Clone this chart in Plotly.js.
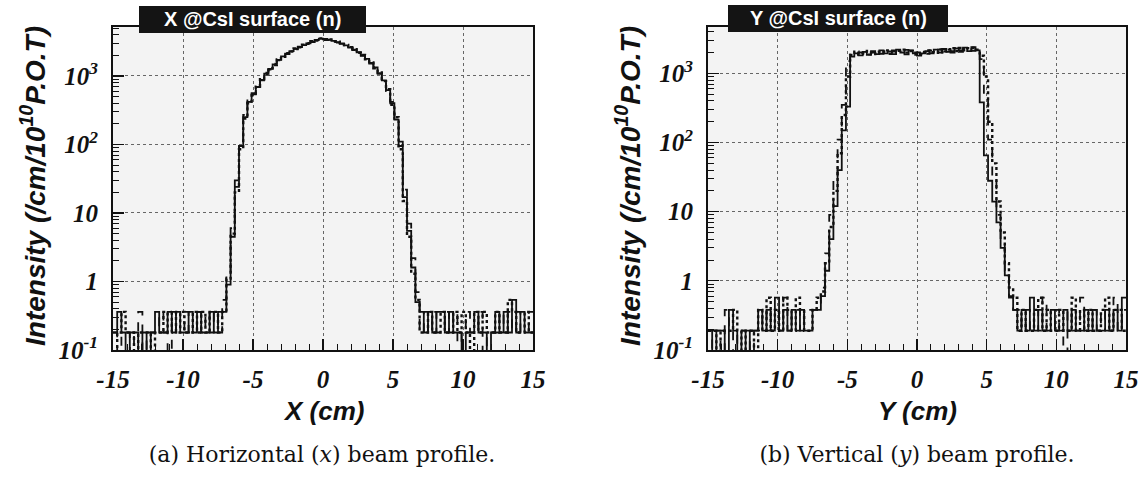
<!DOCTYPE html>
<html><head><meta charset="utf-8">
<script src="https://cdn.plot.ly/plotly-3.0.1.min.js"></script>
<style>
html,body{margin:0;padding:0;background:#fff}
#wrap{position:relative;width:1141px;height:477px}
#plot{position:absolute;left:0;top:0;width:1141px;height:477px}
.cap{position:absolute;top:440px;height:30px;font-family:'DejaVu Serif',serif;font-size:22px;color:#111;text-align:center;white-space:nowrap;line-height:30px}
</style>
</head><body><div id="wrap"><div id="plot"></div>
<div class="cap" style="left:122px;width:400px">(a) Horizontal (<i>x</i>) beam profile.</div>
<div class="cap" style="left:717px;width:400px">(b) Vertical (<i>y</i>) beam profile.</div>
</div>
<script>
// Histogram binning: 100 bins of 0.3 cm from -15 to 15
const binLow = -15, binWidth = 0.3;

// Horizontal (x) profile, three overlaid histograms
const xSolid = [0.18,0.36,0.18,0,0.18,0.18,0,0.18,0,0.18,0.36,0.18,0.18,0.36,0.18,0.36,0.18,0.18,0.36,0.18,0.36,0.18,0.18,0.36,0.18,0.36,
 0.36,0.9,4.5,24,95,250,420,540,690,880,1080,1270,1480,1720,1930,2120,2300,2480,2650,2830,3000,3180,3350,3500,3420,3380,3250,3120,2950,2800,2600,2420,2220,2000,1780,1550,1330,1100,860,620,400,230,95,17,5.5,1.6,0.5,0.36,0.18,
 0.36,0.18,0.36,0.36,0.18,0.36,0.18,0.18,0,0.18,0.18,0.36,0.18,0.18,0,0.18,0.36,0.18,0.36,0.18,0.54,0.18,0.36,0.18,0.18];
const xDashed = [0.18,0,0.18,0.18,0,0.18,0.36,0,0.18,0.18,0.18,0.36,0.18,0,0.36,0.18,0.18,0.36,0.18,0.18,0.36,0.18,0.36,0.18,0.36,0.18,
 0.54,1.4,6,30,110,270,440,560,720,860,1120,1240,1510,1690,1960,2090,2340,2450,2690,2790,3050,3130,3400,3450,3480,3330,3290,3070,3000,2760,2650,2380,2260,1960,1820,1520,1360,1070,880,600,420,210,110,22,7,2.2,0.7,0.18,0.36,
 0.18,0.36,0.18,0.18,0.36,0.18,0.36,0,0.18,0.36,0.18,0.18,0.36,0,0.18,0.18,0.18,0.36,0.18,0.36,0.18,0.36,0.18,0.18,0.36];
const xDotted = [0,0.18,0.36,0.18,0.18,0,0.18,0.18,0.18,0,0.18,0.18,0.36,0.18,0.36,0.18,0.36,0.18,0.18,0.36,0.18,0.36,0.18,0.36,0.36,0.18,
 0.36,1.1,5,20,85,240,400,520,700,900,1050,1300,1450,1750,1900,2150,2280,2520,2620,2870,2960,3220,3300,3540,3380,3420,3210,3160,2900,2830,2560,2450,2180,2030,1750,1580,1300,1130,840,640,380,250,85,15,4.5,1.3,0.54,0.18,0.18,
 0.36,0.18,0.18,0.36,0.18,0.18,0.36,0.18,0.36,0.18,0,0.36,0.18,0.36,0.18,0.18,0.36,0.18,0.18,0.54,0.36,0.18,0.18,0.36,0.18];

// Vertical (y) profile, three overlaid histograms
const ySolid = [0.19,0,0.19,0.19,0,0.38,0.19,0,0.19,0,0.19,0.19,0.38,0.19,0.38,0.19,0.57,0.19,0.38,0.19,0.38,0.19,0.38,0.19,
 0.19,0.38,0.38,0.6,1.4,4,12,40,150,330,1750,1950,1820,2050,1850,2100,1900,2150,1950,2080,1900,2200,2000,1880,2150,1950,1800,1950,2100,1950,2200,2000,2250,2050,2000,2300,2150,2350,2100,2400,2150,380,65,28,14,7,3,1.2,0.57,0.38,0.19,
 0.38,0.19,0.57,0.19,0.38,0.19,0.19,0.38,0.19,0.19,0.38,0.19,0.38,0.19,0.19,0.38,0.19,0.38,0.19,0.19,0.38,0.19,0.38,0.19,0.57];
const yDashed = [0,0.19,0.19,0,0.38,0.19,0,0.19,0.19,0.19,0,0.19,0.19,0.38,0.19,0.38,0.38,0.19,0.57,0.19,0.38,0.38,0.19,0.38,
 0.38,0.38,0.4,0.8,2.5,9,30,110,350,1500,1950,1850,2000,2100,1880,1990,2130,1920,2100,1960,2150,2000,1950,2180,1980,1850,2000,2080,1920,2150,2050,2200,2000,2250,2100,2300,2050,2250,2380,2120,2300,1600,420,110,30,9,3.5,1.4,0.6,0.38,0.38,
 0.19,0.38,0.19,0.38,0.19,0.57,0.19,0.19,0.38,0.19,0,0.38,0.19,0.19,0.57,0.19,0.19,0.38,0.19,0.38,0.19,0.19,0.57,0.19,0.38];
const yDotted = [0.19,0.19,0,0.19,0.19,0.19,0.38,0.19,0,0.19,0.19,0,0.38,0.19,0.57,0.19,0.38,0.19,0.57,0.38,0.19,0.57,0.38,0.19,
 0.19,0.38,0.57,0.7,1.8,6,20,70,250,900,1850,2050,1900,1950,2100,1900,2060,1980,2150,1920,2080,2120,2200,1990,2100,1980,1900,2030,2150,2020,1980,2220,2080,2200,2300,2100,2320,2150,2300,2350,2200,1800,900,200,50,14,5,1.8,0.8,0.57,0.19,
 0.38,0.19,0.19,0.38,0.57,0.19,0.38,0.19,0.19,0.38,0.19,0.19,0.57,0.19,0.38,0.19,0.38,0.19,0.19,0.38,0.57,0.19,0.38,0.38,0.19];

const xTickVals = [-15,-10,-5,0,5,10,15];
const xTickText = ['-15','-10','-5','0','5','10','15'];
const yTickVals = [0.1,1,10,100,1000];
const yTickText = ['10<sup>-1</sup>','1','10','10<sup>2</sup>','10<sup>3</sup>'];

const W = 1141, H = 477;
const px = v => v / W, py = v => 1 - v / H;
const EMPTY = 0.02; // empty bins drawn down through the bottom of the log axis
const SERIF = 'Liberation Serif';
const SANS = 'Liberation Sans';
const INK = '#111';

function stepTrace(vals, dash, width, xa, ya) {
  const x = [], y = [];
  vals.forEach((v, i) => { x.push(binLow + i * binWidth); y.push(v > 0 ? v : EMPTY); });
  x.push(binLow + vals.length * binWidth); y.push(vals[vals.length - 1] > 0 ? vals[vals.length - 1] : EMPTY);
  return {x, y, type:'scatter', mode:'lines', xaxis:xa, yaxis:ya, hoverinfo:'skip', showlegend:false,
          line:{shape:'hv', dash, width, color:INK}};
}

const traces = [
  stepTrace(xSolid, 'solid', 1.8, 'x', 'y'),
  stepTrace(xDashed, 'dash', 1.8, 'x', 'y'),
  stepTrace(xDotted, 'dot', 2.4, 'x', 'y'),
  stepTrace(ySolid, 'solid', 1.8, 'x2', 'y2'),
  stepTrace(yDashed, 'dash', 1.8, 'x2', 'y2'),
  stepTrace(yDotted, 'dot', 2.4, 'x2', 'y2')
];

const tickFont = () => ({family:SERIF, size:25, weight:'bold', style:'italic', color:INK});

function axisX(p0, p1, anchor) {
  return {domain:[px(p0), px(p1)], anchor, range:[-15,15], tickmode:'array', tickvals:xTickVals, ticktext:xTickText,
    ticks:'inside', ticklen:11, tickwidth:1.2, tickcolor:INK,
    minor:{dtick:1, ticks:'inside', ticklen:6, tickwidth:1, tickcolor:INK, showgrid:false},
    showgrid:true, gridcolor:'#666', griddash:'dot', gridwidth:1,
    showline:true, linecolor:INK, linewidth:2, mirror:true, zeroline:false,
    tickfont:tickFont(), ticklabelstandoff:6, fixedrange:true};
}
function axisY(top, anchor) {
  return {type:'log', domain:[py(350), py(27)], anchor, range:[-1, top], tickmode:'array', tickvals:yTickVals, ticktext:yTickText,
    ticks:'inside', ticklen:11, tickwidth:1.2, tickcolor:INK,
    minor:{dtick:'D1', ticks:'inside', ticklen:6, tickwidth:1, tickcolor:INK, showgrid:false},
    showgrid:true, gridcolor:'#666', griddash:'dot', gridwidth:1,
    showline:true, linecolor:INK, linewidth:2, mirror:true, zeroline:false,
    tickfont:tickFont(), ticklabelstandoff:8, fixedrange:true};
}

const layout = {
  width:W, height:H, margin:{l:0,r:0,t:0,b:0},
  paper_bgcolor:'rgba(0,0,0,0)', plot_bgcolor:'#f3f3f3', showlegend:false,
  xaxis: axisX(113, 533, 'y'),
  yaxis: axisY(3.715, 'x'),
  xaxis2: axisX(708, 1126, 'y2'),
  yaxis2: axisY(3.67, 'x2'),
  shapes:[
    {type:'rect', xref:'paper', yref:'paper', x0:px(139), x1:px(366), y0:py(33), y1:py(6), fillcolor:'#141414', line:{width:0}, layer:'above'},
    {type:'rect', xref:'paper', yref:'paper', x0:px(728), x1:px(948), y0:py(32), y1:py(5), fillcolor:'#141414', line:{width:0}, layer:'above'}
  ],
  annotations:[
    {xref:'paper', yref:'paper', x:px(252.5), y:py(19.5), text:'<b>X @CsI surface (n)</b>', showarrow:false, xanchor:'center', yanchor:'middle',
     font:{family:SANS, size:20, color:'#fff'}},
    {xref:'paper', yref:'paper', x:px(838), y:py(18.5), text:'<b>Y @CsI surface (n)</b>', showarrow:false, xanchor:'center', yanchor:'middle',
     font:{family:SANS, size:20, color:'#fff'}},
    {xref:'paper', yref:'paper', x:px(33), y:py(186), text:'<b><i>Intensity (/cm/10<sup>10</sup>P.O.T)</i></b>', textangle:-90, showarrow:false, xanchor:'center', yanchor:'middle',
     font:{family:SANS, size:28, color:INK}},
    {xref:'paper', yref:'paper', x:px(628), y:py(186), text:'<b><i>Intensity (/cm/10<sup>10</sup>P.O.T)</i></b>', textangle:-90, showarrow:false, xanchor:'center', yanchor:'middle',
     font:{family:SANS, size:28, color:INK}},
    {xref:'paper', yref:'paper', x:px(323), y:py(411), text:'<b><i>X (cm)</i></b>', showarrow:false, xanchor:'center', yanchor:'middle',
     font:{family:SANS, size:26, color:INK}},
    {xref:'paper', yref:'paper', x:px(917), y:py(411), text:'<b><i>Y (cm)</i></b>', showarrow:false, xanchor:'center', yanchor:'middle',
     font:{family:SANS, size:26, color:INK}}
  ]
};

Plotly.newPlot('plot', traces, layout, {staticPlot:true}).then(() => {
  document.getElementById('wrap').setAttribute('data-ready', '1');
});
</script>
</body></html>
